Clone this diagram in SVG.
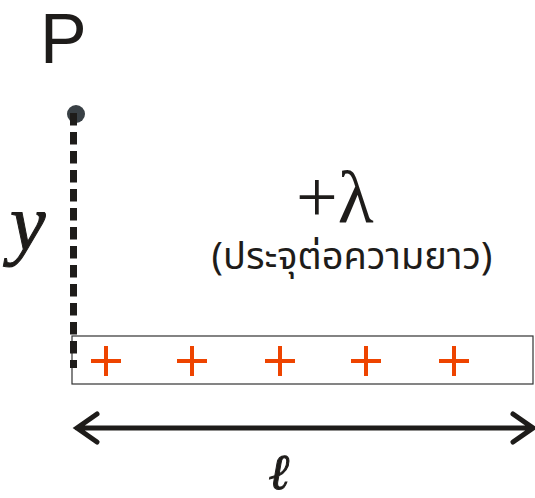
<svg xmlns="http://www.w3.org/2000/svg" width="535" height="498" viewBox="0 0 535 498">
<style>
.plus{stroke:#ee4400;stroke-width:4;fill:none}
.lbl{fill:#1e1c1a}
</style>
<rect width="535" height="498" fill="#fff"/>
<g id="P">
<text x="40" y="63" font-family="Liberation Sans, Arial, sans-serif" font-size="70" class="lbl">P</text>
<circle cx="76" cy="114" r="9" fill="#394045"/>
</g>
<g id="rod">
<rect x="72" y="336" width="461" height="48" fill="none" stroke="#333" stroke-width="1.2"/>
<path class="plus" d="M91 361h30M106 346v30M177 361h30M192 346v30M265 361h30M280 346v30M351 361h30M366 346v30M439 361h30M454 346v30"/>
</g>
<g id="connectors">
<line x1="73.5" y1="113" x2="73.5" y2="368" stroke="#1e1c1a" stroke-width="7" stroke-dasharray="12.5 6.5"/>
<path d="M77 428H532M97 414L77 428L97 442M513 414L533 428L513 442" fill="none" stroke="#1e1c1a" stroke-width="5" stroke-linecap="round" stroke-linejoin="miter"/>
</g>
<g id="labels">
<text x="10" y="250" font-family="Liberation Serif, serif" font-style="italic" font-size="80" class="lbl" stroke="#1e1c1a" stroke-width="1">y</text>
<text x="296" y="222" font-family="Liberation Serif, serif" font-size="74" class="lbl">+λ</text>
<text x="352" y="269" text-anchor="middle" font-family="Noto Sans Thai, DejaVu Sans, sans-serif" font-size="38" class="lbl">(ประจุต่อความยาว)</text>
<text x="279" y="489" text-anchor="middle" font-family="DejaVu Serif, serif" font-style="italic" font-size="50" class="lbl" stroke="#1e1c1a" stroke-width="1">ℓ</text>
</g>
</svg>
